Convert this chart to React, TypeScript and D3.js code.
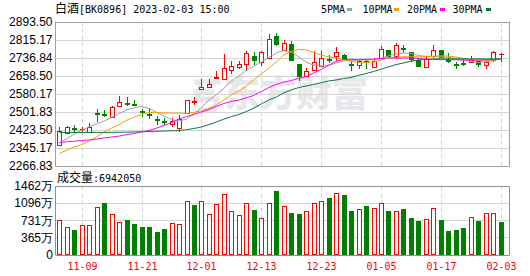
import React from "react";
import * as d3 from "d3";

const dates = [
  "11-04","11-07","11-08","11-09","11-10","11-11","11-14","11-15","11-16","11-17","11-18","11-21","11-22","11-23","11-24","11-25","11-28","11-29","11-30",
  "12-01","12-02","12-05","12-06","12-07","12-08","12-09","12-12","12-13","12-14","12-15","12-16","12-19","12-20","12-21","12-22","12-23","12-26","12-27","12-28","12-29","12-30",
  "01-03","01-04","01-05","01-06","01-09","01-10","01-11","01-12","01-13","01-16","01-17","01-18","01-19","01-20","01-30","01-31",
  "02-01","02-02","02-03",
];
const opens = [2358,2412,2433.5,2427,2416,2499,2491,2481,2528,2542,2538,2507.5,2493,2472.7,2464,2451,2432,2497.5,2546,2603,2609.3,2649.8,2646.7,2683.3,2696.4,2710.7,2746.8,2718,2736.8,2831.3,2770.3,2797.8,2710.7,2657.2,2686,2703.3,2731,2744.2,2751.2,2709,2707.7,2723,2697.7,2738.2,2771.6,2743.4,2779,2763,2730.3,2696.4,2746.8,2770.8,2733.8,2712,2716,2721.6,2723.8,2705,2728.1,2754];
const highs = [2438,2441,2444,2435,2452.6,2513.6,2510.5,2529,2572.8,2566,2554,2513.6,2519,2483,2475.7,2475.7,2487.5,2553,2567,2646.7,2645.4,2679,2754,2725,2722.4,2766,2763,2766,2841.3,2845.6,2816.5,2809.5,2711,2693.3,2768.6,2768.6,2752,2783.4,2755,2722.5,2729.4,2727,2735.5,2790.4,2773,2800.8,2793,2763,2736,2747.7,2793.4,2771,2758.6,2720,2731,2747.7,2730,2724,2767.3,2758];
const lows = [2354,2410,2412,2416,2412,2460,2479,2478.7,2525,2528,2528,2481,2472,2446.5,2444,2436.5,2413.5,2497,2533.6,2603,2606.3,2646.7,2646,2668.5,2687.6,2681.6,2707.7,2700.7,2733.8,2787.8,2766,2722,2635.4,2652.8,2681.6,2700.7,2714,2722.5,2727,2681.6,2690.3,2690,2692,2731,2741,2731,2757,2720.7,2696,2693.3,2739,2737,2715,2690,2703,2713,2695.5,2686.8,2718.1,2718];
const closes = [2420.5,2435,2423.5,2429,2438,2489,2487,2525,2545,2539,2535,2496,2484.4,2461.4,2452.6,2461.4,2470,2552.7,2548,2609.4,2623.7,2655.4,2693.3,2700.7,2712,2758.6,2725.1,2761.6,2819.5,2792.1,2802.1,2722.5,2652.8,2678.9,2718.1,2736.8,2728,2762.9,2729.4,2707,2722.5,2720,2722.5,2774.7,2742.5,2793.4,2771,2728,2696.4,2732.5,2769.5,2739,2718.1,2710,2708,2730.3,2704.2,2721.6,2762,2756];
const prevClose = 2400;
// volume in 万
const volumes = [736,580,523,630,630,1007,1105,864,700,736,658,587,587,480,544,666,644,1135,1056,1135,864,1078,1285,922,836,1092,950,772,1092,1355,1028,886,864,922,1092,1135,1206,1306,1270,928,965,1035,986,1092,928,922,965,779,715,751,986,736,501,523,566,794,715,886,886,694.205];

const ma5 = [2367,2386,2406,2423,2438,2450,2463,2478,2495,2511,2520,2526,2517,2500,2484,2469,2463,2471,2495,2521,2554,2578,2604,2637,2658,2682,2702,2719,2739,2759,2769,2763,2741,2719,2706,2702,2704,2715,2724,2726,2727,2728,2729,2735,2746,2754,2759,2756,2748,2744,2743,2741,2740,2735,2729,2724,2717,2719,2726,2733];
const ma10 = [2321,2336,2350,2360,2376,2393,2415,2432,2447,2465,2480,2491,2500,2500,2497,2497,2497,2496,2500,2507,2517,2532,2554,2576,2593,2615,2643,2667,2693,2719,2750,2765,2774,2772,2761,2750,2741,2737,2729,2722,2717,2717,2719,2728,2737,2740,2742,2742,2742,2743,2745,2746,2745,2741,2735,2730,2727,2726,2728,2732];
const ma20 = [2369,2372,2375,2378,2380,2384,2389,2393,2397,2404,2408,2415,2421,2432,2443,2456,2471,2482,2491,2502,2513,2526,2539,2548,2554,2563,2574,2591,2608,2622,2632,2639,2648,2656,2672,2687,2706,2722,2730,2731,2730,2731,2732,2735,2737,2737,2737,2737,2735,2732,2731,2730,2730,2729,2728,2728,2728,2729,2730,2732];
const ma30 = [2413,2413,2413,2413,2413,2413,2413,2413,2414,2414,2415,2416,2417,2418,2419,2420,2421,2425,2430,2437,2447,2458,2471,2482,2491,2504,2519,2537,2554,2567,2585,2598,2608,2615,2622,2629,2637,2641,2648,2652,2661,2669,2678,2688,2698,2708,2715,2723,2728,2730,2732,2733,2733,2733,2733,2733,2733,2733,2733,2733];

const priceTickValues = [2893.5,2815.17,2736.84,2658.5,2580.17,2501.83,2423.5,2345.17,2266.83];
const priceTickLabels = ["2893.50","2815.17","2736.84","2658.50","2580.17","2501.83","2423.50","2345.17","2266.83"];
const volTickValues = [0,365.55,731.1,1096.65,1462.2];
const volTickLabels = ["0","365万","731万","1096万","1462万"];
const xTickDates = ["11-09","11-21","12-01","12-13","12-23","01-05","01-17","02-03"];

const maNames = ["5PMA","10PMA","20PMA","30PMA"];
const maColors = ["#a0a0a0","#f5a000","#ff00ff","#0a7a3a"];
const maSeries = [ma5, ma10, ma20, ma30];

const RED = "#ff0000";
const GREEN = "#008000";
const GRID = "#d4d4d4";
const BORDER = "#a0a0a0";
const MONO = "'DejaVu Sans Mono', 'Liberation Mono', monospace";
const CJK = "'Noto Sans CJK SC', sans-serif";
const SANS = "'Liberation Sans', Arial, sans-serif";

export default function App() {
  const W = 530, H = 276;
  const left = 55.5, right = 509.5;
  const pTop = 21.5, pBot = 166;
  const vTop = 186.5, vBot = 254.5;

  const x = d3.scaleBand<number>().domain(d3.range(dates.length)).range([55.6, 504.4]);
  const cx = (i: number) => (x(i) as number) + x.bandwidth() / 2;
  const y = d3.scaleLinear().domain([2266.83, 2893.5]).range([166, 22]);
  const yv = d3.scaleLinear().domain([0, 1462.2]).range([254.5, 186]);

  const maLine = d3.line<number>().x((_, i) => cx(i)).y((d) => y(d));

  const gridX = xTickDates.map((d) => Math.round(cx(dates.indexOf(d))) + 0.5);

  return (
    <svg width={W} height={H} style={{ position: "absolute", left: 0, top: 0, background: "#fff" }}>
      <rect x={0} y={0} width={W} height={H} fill="#fff" />

      {/* watermark */}
      <g fill="none" stroke="#e8e8ec" strokeWidth={5} strokeLinecap="square">
        <path d="M197,82 L218,82 M201,82 L197,99 L217,99 L214,110 L205,110 M196,92 L212,92" />
      </g>
      <text x={224} y={107} fontFamily={CJK} fontSize={36} fontWeight={900} fill="#e8e8ec">东方财富</text>

      {/* title */}
      <text y={13} fill="#000">
        <tspan x={55} fontFamily={CJK} fontSize={12}>白酒</tspan>
        <tspan fontFamily={MONO} fontSize={10}>[BK0896] 2023-02-03 15:00</tspan>
      </text>
      {/* legend */}
      {maNames.map((n, k) => {
        const lx = [321, 362.5, 407, 452.5][k];
        const sx = [347, 394, 440, 486][k];
        return (
          <g key={n}>
            <text x={lx} y={13} fontFamily={MONO} fontSize={10} fill="#000">{n}</text>
            <rect x={sx} y={8} width={5} height={3} fill={maColors[k]} />
          </g>
        );
      })}

      {/* price grid */}
      {priceTickValues.map((v, k) => (
        <line key={"pg" + k} x1={left} x2={right} y1={Math.round(y(v)) + 0.5} y2={Math.round(y(v)) + 0.5}
          stroke={k === 0 || k === priceTickValues.length - 1 ? BORDER : GRID} strokeWidth={1} />
      ))}
      {gridX.map((gx, k) => (
        <g key={"vg" + k}>
          <line x1={gx} x2={gx} y1={pTop} y2={pBot} stroke={GRID} strokeDasharray="4,3" />
          <line x1={gx} x2={gx} y1={vTop} y2={vBot} stroke={GRID} strokeDasharray="4,3" />
        </g>
      ))}
      <line x1={left} x2={left} y1={pTop} y2={pBot + 0.5} stroke={BORDER} />
      <line x1={right} x2={right} y1={pTop} y2={pBot + 0.5} stroke={BORDER} />
      {priceTickValues.map((v, k) => (
        <text key={"pl" + k} x={52.5} y={y(v)} dy="0.36em" textAnchor="end" fontFamily={SANS} fontSize={12} fill="#000">
          {priceTickLabels[k]}
        </text>
      ))}

      {/* candles */}
      {dates.map((d, i) => {
        const o = opens[i], c = closes[i], h = highs[i], l = lows[i];
        const up = c >= o;
        const px = Math.round(cx(i));
        const yt = Math.round(y(Math.max(o, c)));
        const yb = Math.round(y(Math.min(o, c)));
        const col = up ? RED : GREEN;
        return (
          <g key={"c" + i}>
            <line x1={px + 0.5} x2={px + 0.5} y1={Math.round(y(h))} y2={Math.round(y(l))} stroke={col} />
            {up ? (
              yb - yt >= 1 ? (
                <rect x={px - 2 + 0.5} y={yt + 0.5} width={4} height={yb - yt} fill="#fff" stroke={RED} />
              ) : (
                <line x1={px - 2} x2={px + 3} y1={yt + 0.5} y2={yt + 0.5} stroke={RED} />
              )
            ) : (
              <rect x={px - 2} y={yt} width={5} height={Math.max(yb - yt, 2)} fill={GREEN} />
            )}
          </g>
        );
      })}

      {/* moving averages */}
      {maSeries.map((s, k) => (
        <path key={"ma" + k} d={maLine(s) || ""} fill="none" stroke={maColors[k]} strokeWidth={1} />
      ))}

      {/* volume panel */}
      <text y={182} fill="#000">
        <tspan x={57} fontFamily={CJK} fontSize={12}>成交量</tspan>
        <tspan fontFamily={MONO} fontSize={10}>:{Math.round(volumes[volumes.length - 1] * 10000)}</tspan>
      </text>
      {volTickValues.map((v, k) => (
        <line key={"vgl" + k} x1={left} x2={right} y1={Math.round(yv(v)) + 0.5} y2={Math.round(yv(v)) + 0.5}
          stroke={k === 0 || k === volTickValues.length - 1 ? "#909090" : GRID} />
      ))}
      <line x1={left} x2={left} y1={vTop} y2={vBot + 0.5} stroke="#909090" />
      <line x1={right} x2={right} y1={vTop} y2={vBot + 0.5} stroke="#909090" />
      {volTickValues.map((v, k) => (
        <text key={"vl" + k} x={53} y={yv(v)} dy="0.36em" textAnchor="end" fontFamily={SANS} fontSize={12} fill="#000">
          {volTickLabels[k]}
        </text>
      ))}
      {volumes.map((v, i) => {
        const pc = i === 0 ? prevClose : closes[i - 1];
        const up = closes[i] >= pc;
        const px = Math.round(cx(i));
        const yt = Math.round(yv(v));
        const yb = Math.round(yv(0));
        return up ? (
          <rect key={"v" + i} x={px - 2 + 0.5} y={yt + 0.5} width={4} height={yb - yt - 1} fill="#fff" stroke={RED} />
        ) : (
          <rect key={"v" + i} x={px - 2} y={yt} width={5} height={yb - yt} fill={GREEN} />
        );
      })}

      {/* x labels */}
      {xTickDates.map((d, k) => (
        <text key={"xl" + k} x={gridX[k]} y={270} textAnchor="middle" fontFamily={MONO} fontSize={10} fill={RED}>
          {d}
        </text>
      ))}
    </svg>
  );
}
